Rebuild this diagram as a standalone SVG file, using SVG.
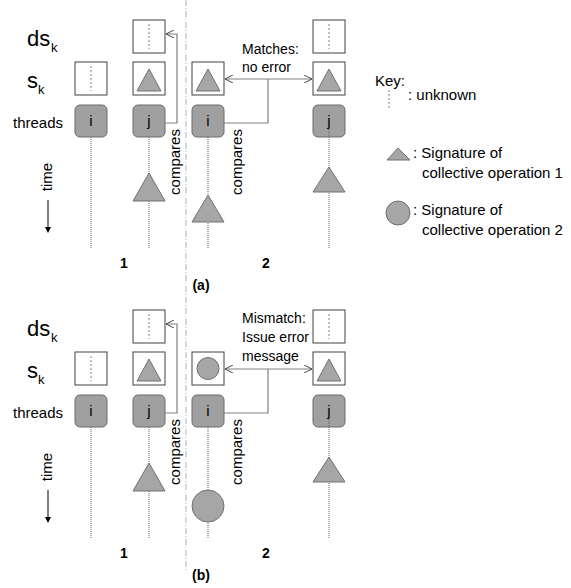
<svg xmlns="http://www.w3.org/2000/svg" width="571" height="588" viewBox="0 0 571 588">
<style>
text{font-family:"Liberation Sans","Open Sans",Arial,sans-serif;fill:#000}
.lbl{font-size:14px}
.key{font-size:15px}
.big{font-size:22px}
.sub{font-size:13px}
.bold{font-size:14px;font-weight:bold}
.box{fill:#fff;stroke:#404040;stroke-width:1}
.thr{fill:#a0a0a0;stroke:#6a6a6a;stroke-width:1}
.sig{fill:#a6a6a6;stroke:#707070;stroke-width:1}
.unk{stroke:#808080;stroke-width:1;stroke-dasharray:2,2;fill:none}
.life{stroke:#606060;stroke-width:1;stroke-dasharray:1,1;fill:none}
.conn{stroke:#808080;stroke-width:1.2;fill:none}
.div{stroke:#b0b0b0;stroke-width:1;stroke-dasharray:6,2,1,2;fill:none}
</style>
<defs>
<marker id="ah" viewBox="0 0 10 10" refX="10" refY="5" markerWidth="8" markerHeight="8" orient="auto-start-reverse" markerUnits="userSpaceOnUse">
<path d="M0,0 L10,5 L0,10" fill="none" stroke="#404040" stroke-width="1.2"/>
</marker>
</defs>
<line class="div" x1="186" y1="0" x2="186" y2="572"/>
<g id="key">
<text class="key" x="375" y="86">Key:</text>
<line class="unk" x1="389" y1="90" x2="389" y2="110"/>
<text class="key" x="408" y="100">: unknown</text>
<polygon class="sig" points="387,160 398,148 410,160"/>
<text class="key" x="413" y="158">: Signature  of</text>
<text class="key" x="422" y="178">collective operation 1</text>
<circle class="sig" cx="398" cy="213" r="12"/>
<text class="key" x="413" y="215">: Signature of</text>
<text class="key" x="422" y="235">collective operation 2</text>
</g>
<g id="panel-a">
<g id="labels-a">
<text class="big" x="27" y="46">ds</text><text class="sub" x="51" y="52">k</text>
<text class="big" x="27" y="88">s</text><text class="sub" x="38" y="94">k</text>
<text class="key" x="13" y="128">threads</text>
<text class="key" transform="translate(52,177) rotate(-90)" text-anchor="middle">time</text>
<line x1="48" y1="200" x2="48" y2="228" stroke="#000" stroke-width="1"/>
<polygon points="45,227 51,227 48,233" fill="#000"/>
<text class="bold" x="124" y="268" text-anchor="middle">1</text>
<text class="bold" x="266" y="268" text-anchor="middle">2</text>
<text class="bold" x="201" y="290" text-anchor="middle">(a)</text>
<text class="lbl" x="242" y="54">Matches:</text>
<text class="lbl" x="242" y="72">no error</text>
</g>
<g id="a-i1">
<rect class="box" x="75" y="62" width="32" height="33"/>
<line class="unk" x1="91" y1="66" x2="91" y2="91"/>
<rect class="thr" x="75" y="105" width="32" height="32" rx="5"/>
<text class="key" x="91" y="126" text-anchor="middle">i</text>
<line class="life" x1="91" y1="137" x2="91" y2="248"/>
</g>
<g id="a-j1">
<rect class="box" x="133" y="20" width="32" height="33"/>
<line class="unk" x1="149" y1="24" x2="149" y2="49"/>
<rect class="box" x="133" y="62" width="32" height="33"/>
<polygon class="sig" points="137,91 149,69 161,91"/>
<rect class="thr" x="133" y="105" width="32" height="32" rx="5"/>
<text class="key" x="149" y="126" text-anchor="middle">j</text>
<line class="life" x1="149" y1="137" x2="149" y2="248"/>
<polygon class="sig" points="133,201 149,173 165,201"/>
</g>
<g id="a-i2">
<rect class="box" x="192" y="62" width="32" height="33"/>
<polygon class="sig" points="196,91 208,69 220,91"/>
<rect class="thr" x="192" y="105" width="32" height="32" rx="5"/>
<text class="key" x="208" y="126" text-anchor="middle">i</text>
<line class="life" x1="208" y1="137" x2="208" y2="248"/>
<polygon class="sig" points="192,222 208,195 224,222"/>
</g>
<g id="a-j2">
<rect class="box" x="313" y="20" width="32" height="33"/>
<line class="unk" x1="329" y1="24" x2="329" y2="49"/>
<rect class="box" x="313" y="62" width="32" height="33"/>
<polygon class="sig" points="317,91 329,69 341,91"/>
<rect class="thr" x="313" y="105" width="32" height="32" rx="5"/>
<text class="key" x="329" y="126" text-anchor="middle">j</text>
<line class="life" x1="329" y1="129" x2="329" y2="248"/>
<polygon class="sig" points="313,192 329,167 345,192"/>
</g>
<g id="connectors-a">
<polyline class="conn" points="165,123 177,123 177,34 166,34" marker-end="url(#ah)"/>
<text class="key" transform="translate(180,162) rotate(-90)" text-anchor="middle">compares</text>
<polyline class="conn" points="224,123 268,123 268,79"/>
<line class="conn" x1="225" y1="79" x2="312" y2="79" marker-start="url(#ah)" marker-end="url(#ah)"/>
<text class="key" transform="translate(242,162) rotate(-90)" text-anchor="middle">compares</text>
</g>
</g>
<g id="panel-b">
<g id="labels-b">
<text class="big" x="27" y="336">ds</text><text class="sub" x="51" y="342">k</text>
<text class="big" x="27" y="378">s</text><text class="sub" x="38" y="384">k</text>
<text class="key" x="13" y="418">threads</text>
<text class="key" transform="translate(52,467) rotate(-90)" text-anchor="middle">time</text>
<line x1="48" y1="490" x2="48" y2="518" stroke="#000" stroke-width="1"/>
<polygon points="45,517 51,517 48,523" fill="#000"/>
<text class="bold" x="124" y="558" text-anchor="middle">1</text>
<text class="bold" x="266" y="558" text-anchor="middle">2</text>
<text class="bold" x="201" y="580" text-anchor="middle">(b)</text>
<text class="lbl" x="242" y="323">Mismatch:</text>
<text class="lbl" x="242" y="342">Issue error</text>
<text class="lbl" x="242" y="361">message</text>
</g>
<g id="b-i1">
<rect class="box" x="75" y="352" width="32" height="33"/>
<line class="unk" x1="91" y1="356" x2="91" y2="381"/>
<rect class="thr" x="75" y="395" width="32" height="32" rx="5"/>
<text class="key" x="91" y="416" text-anchor="middle">i</text>
<line class="life" x1="91" y1="427" x2="91" y2="538"/>
</g>
<g id="b-j1">
<rect class="box" x="133" y="310" width="32" height="33"/>
<line class="unk" x1="149" y1="314" x2="149" y2="339"/>
<rect class="box" x="133" y="352" width="32" height="33"/>
<polygon class="sig" points="137,381 149,359 161,381"/>
<rect class="thr" x="133" y="395" width="32" height="32" rx="5"/>
<text class="key" x="149" y="416" text-anchor="middle">j</text>
<line class="life" x1="149" y1="427" x2="149" y2="538"/>
<polygon class="sig" points="133,491 149,463 165,491"/>
</g>
<g id="b-i2">
<rect class="box" x="192" y="352" width="32" height="33"/>
<circle class="sig" cx="208" cy="368.5" r="11"/>
<rect class="thr" x="192" y="395" width="32" height="32" rx="5"/>
<text class="key" x="208" y="416" text-anchor="middle">i</text>
<line class="life" x1="208" y1="427" x2="208" y2="538"/>
<circle class="sig" cx="208" cy="506" r="16"/>
</g>
<g id="b-j2">
<rect class="box" x="313" y="310" width="32" height="33"/>
<line class="unk" x1="329" y1="314" x2="329" y2="339"/>
<rect class="box" x="313" y="352" width="32" height="33"/>
<polygon class="sig" points="317,381 329,359 341,381"/>
<rect class="thr" x="313" y="395" width="32" height="32" rx="5"/>
<text class="key" x="329" y="416" text-anchor="middle">j</text>
<line class="life" x1="329" y1="419" x2="329" y2="538"/>
<polygon class="sig" points="313,482 329,457 345,482"/>
</g>
<g id="connectors-b">
<polyline class="conn" points="165,413 177,413 177,324 166,324" marker-end="url(#ah)"/>
<text class="key" transform="translate(180,452) rotate(-90)" text-anchor="middle">compares</text>
<polyline class="conn" points="224,413 268,413 268,369"/>
<line class="conn" x1="225" y1="369" x2="312" y2="369" marker-start="url(#ah)" marker-end="url(#ah)"/>
<text class="key" transform="translate(242,452) rotate(-90)" text-anchor="middle">compares</text>
</g>
</g>
</svg>
